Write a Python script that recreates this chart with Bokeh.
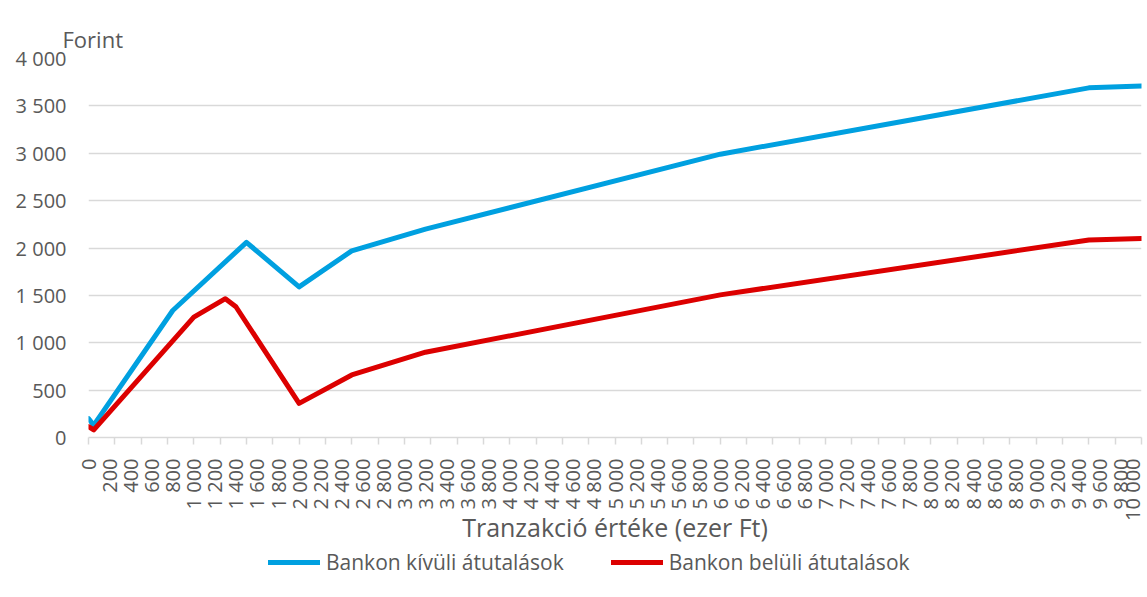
import math
from bokeh.plotting import figure
from bokeh.layouts import column
from bokeh.models import Range1d, FixedTicker, Legend, LegendItem, Title
from bokeh.embed import file_html
from bokeh.resources import INLINE

# ---- data ----
x_blue = [0, 50, 800, 1500, 2000, 2500, 3200, 6000, 9500, 10000]
blue_values = [200, 130, 1340, 2060, 1590, 1970, 2200, 2990, 3690, 3710]

x_red = [0, 50, 1000, 1300, 1400, 2000, 2500, 3200, 6000, 9500, 10000]
red_values = [115, 80, 1270, 1465, 1380, 360, 660, 900, 1505, 2085, 2100]

series_names = ["Bankon kívüli átutalások", "Bankon belüli átutalások"]

x_ticks = list(range(0, 10001, 200))
x_tick_labels = [f"{t:,}".replace(",", " ") for t in x_ticks]
x_minor_ticks = list(range(0, 10001, 250))
y_ticks = [0, 500, 1000, 1500, 2000, 2500, 3000, 3500, 4000]
y_tick_labels = ["0", "500", "1 000", "1 500", "2 000", "2 500", "3 000", "3 500", "4 000"]

x_title = "Tranzakció értéke (ezer Ft)"
y_title = "Forint"

FONT = "Open Sans"
TXT = "#595959"
GRID = "#D9D9D9"
BLUE = "#00A0E0"
RED = "#DC0000"

p = figure(frame_width=1053, frame_height=379, output_backend="svg", toolbar_location=None,
           x_range=Range1d(0, 10000), y_range=Range1d(0, 4000),
           min_border_left=88, min_border_right=4, min_border_top=58, min_border_bottom=108)
p.outline_line_color = None
p.background_fill_color = "white"
p.border_fill_color = "white"

p.title = Title(text=y_title, align="left", offset=-26, standoff=9,
                text_font=FONT, text_font_size="22px", text_font_style="normal",
                text_color=TXT)

r1 = p.line(x_blue, blue_values, line_color=BLUE, line_width=5, line_join="round", line_cap="round")
r2 = p.line(x_red, red_values, line_color=RED, line_width=5, line_join="round", line_cap="round")

# x axis
xa = p.xaxis[0]
xa.ticker = FixedTicker(ticks=x_ticks, minor_ticks=x_minor_ticks)
xa.major_label_overrides = dict(zip(x_ticks, x_tick_labels))
xa.major_label_orientation = math.pi / 2
xa.major_tick_line_color = None
xa.major_tick_out = 0
xa.major_tick_in = 0
xa.minor_tick_line_color = GRID
xa.minor_tick_line_width = 1.5
xa.minor_tick_out = 7
xa.minor_tick_in = 0
xa.axis_line_color = GRID
xa.axis_line_width = 1.5
xa.major_label_standoff = 14
xa.major_label_text_font = FONT
xa.major_label_text_font_size = "20px"
xa.major_label_text_color = TXT
xa.axis_label = x_title
xa.axis_label_text_font = FONT
xa.axis_label_text_font_size = "25px"
xa.axis_label_text_font_style = "normal"
xa.axis_label_text_color = TXT
xa.axis_label_standoff = -14

# y axis
ya = p.yaxis[0]
ya.ticker = FixedTicker(ticks=y_ticks)
ya.major_label_overrides = dict(zip(y_ticks, y_tick_labels))
ya.axis_line_color = None
ya.major_tick_line_color = None
ya.minor_tick_line_color = None
ya.major_tick_out = 0
ya.major_tick_in = 0
ya.major_label_standoff = 22
ya.major_label_text_font = FONT
ya.major_label_text_font_size = "20px"
ya.major_label_text_color = TXT

p.xgrid.visible = False
p.ygrid.ticker = FixedTicker(ticks=y_ticks)
p.ygrid.grid_line_color = GRID
p.ygrid.grid_line_width = 1.5

# legend strip below the chart (same series, ranges chosen so the lines fall outside its frame)
pl = figure(width=1145, height=52, output_backend="svg", toolbar_location=None,
            x_range=Range1d(0, 1), y_range=Range1d(0, 1), min_border=0)
pl.axis.visible = False
pl.grid.visible = False
pl.outline_line_color = None
l1 = pl.line(x_blue, blue_values, line_color=BLUE, line_width=5, line_cap="round")
l2 = pl.line(x_red, red_values, line_color=RED, line_width=5, line_cap="round")

legend = Legend(items=[LegendItem(label=series_names[0], renderers=[l1]),
                       LegendItem(label=series_names[1], renderers=[l2])],
                orientation="horizontal", location=(180, 22),
                glyph_width=52, glyph_height=20, label_standoff=6, spacing=47,
                border_line_color=None, background_fill_alpha=0,
                label_text_font=FONT, label_text_font_size="21px", label_text_color=TXT,
                padding=0, margin=0)
pl.add_layout(legend, "center")

layout = column(p, pl, spacing=0)
open("out.html", "w").write(file_html(layout, INLINE))
